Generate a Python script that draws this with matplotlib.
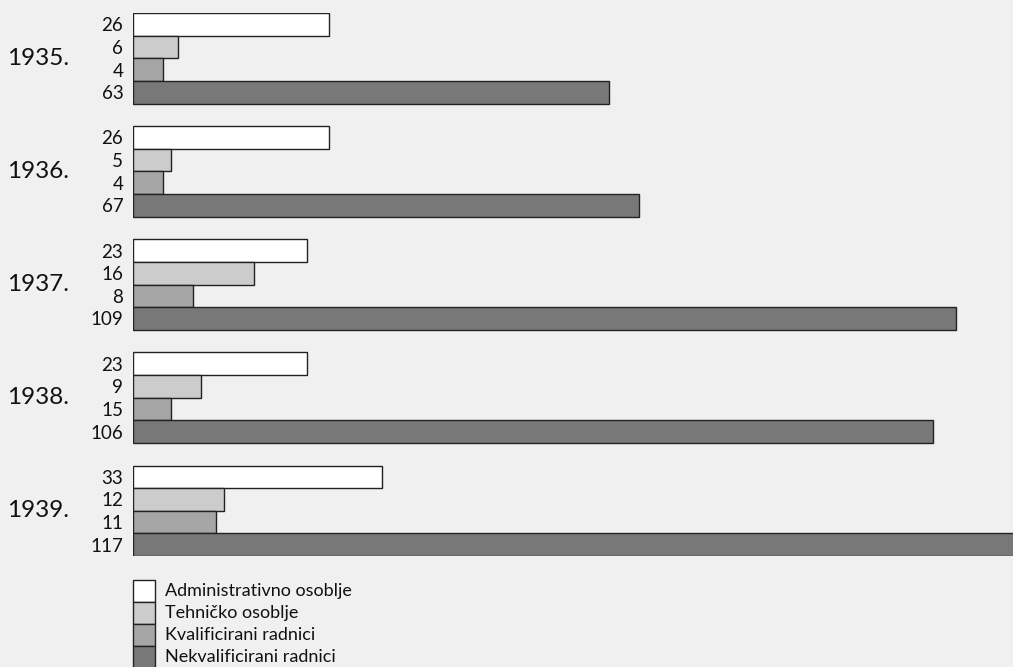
import matplotlib
matplotlib.use("Agg")
import matplotlib.pyplot as plt
from matplotlib.patches import Rectangle

years = ["1935.", "1936.", "1937.", "1938.", "1939."]
categories = ["Administrativno osoblje", "Tehničko osoblje",
              "Kvalificirani radnici", "Nekvalificirani radnici"]
# bar lengths as drawn in the reference
admin = [26, 26, 23, 23, 33]
tehnicko = [6, 5, 16, 9, 12]
kvalif = [4, 4, 8, 5, 11]
nekvalif = [63, 67, 109, 106, 117]
# value labels as printed in the reference
admin_lbl = ["26", "26", "23", "23", "33"]
tehnicko_lbl = ["6", "5", "16", "9", "12"]
kvalif_lbl = ["4", "4", "8", "15", "11"]
nekvalif_lbl = ["63", "67", "109", "106", "117"]

colors = ["#ffffff", "#cccccc", "#a6a6a6", "#787878"]
bg = "#f0f0f0"
FONT = "Lato"

W, H = 1013, 667
fig = plt.figure(figsize=(W / 100, H / 100), dpi=100, facecolor=bg)
ax_left, ax_right = 133, 1013
ax_top, ax_bot = 13, 556
ax = fig.add_axes([ax_left / W, 1 - ax_bot / H, (ax_right - ax_left) / W, (ax_bot - ax_top) / H])
ax.set_facecolor(bg)

series = [admin, tehnicko, kvalif, nekvalif]
labels = [admin_lbl, tehnicko_lbl, kvalif_lbl, nekvalif_lbl]
ticks, ticklabels = [], []
for j, (vals, lbls) in enumerate(zip(series, labels)):
    ys = [g * 5 + j for g in range(len(years))]
    ax.barh(ys, vals, height=1.0, color=colors[j], edgecolor="#222222", linewidth=1.0)
    ticks += ys
    ticklabels += lbls

ax.set_yticks(ticks)
ax.set_yticklabels(ticklabels, fontsize=13.5, family=FONT, color="#111111")
ax.tick_params(axis="y", length=0, pad=7)
ax.set_xticks([])
ax.set_xlim(0, 880 / 7.55)
ax.set_ylim(23.5, -0.5)
for s in ax.spines.values():
    s.set_visible(False)

for g, yr in enumerate(years):
    yc = ax_top + (g * 5 + 1.5 + 0.5) * (ax_bot - ax_top) / 24
    fig.text(7 / W, 1 - yc / H, yr, fontsize=17.5, family=FONT, color="#111111",
             ha="left", va="center")

# legend
for j, cat in enumerate(categories):
    y0 = 580 + j * 22
    fig.add_artist(Rectangle((133 / W, 1 - (y0 + 22) / H), 22 / W, 22 / H,
                             transform=fig.transFigure, facecolor=colors[j],
                             edgecolor="#222222", linewidth=1.0))
    fig.text(165 / W, 1 - (y0 + 11) / H, cat, fontsize=13, family=FONT,
             color="#111111", ha="left", va="center")

fig.savefig("out.png", dpi=100, facecolor=bg)
